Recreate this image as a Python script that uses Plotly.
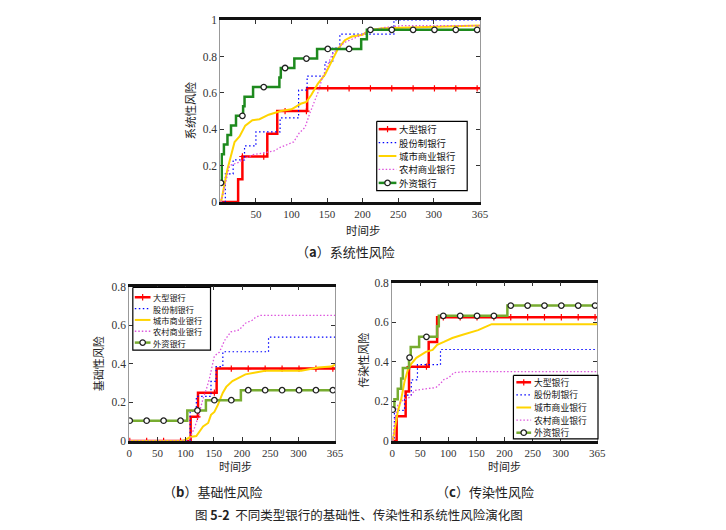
import numpy as np
import plotly.graph_objects as go

W, H = 726, 530

banks = ["大型银行", "股份制银行", "城市商业银行", "农村商业银行", "外资银行"]
xticks_a = [50, 100, 150, 200, 250, 300, 365]
xticks_bc = [0, 50, 100, 150, 200, 250, 300, 365]
yticks_a = [0, 0.2, 0.4, 0.6, 0.8, 1]
yticks_bc = [0, 0.2, 0.4, 0.6, 0.8]
mark_t = list(range(1, 366, 30))

# (a) 系统性风险
sys_big_t = [1, 25, 31, 66, 80, 122, 365]
sys_big_v = [0, 0.125, 0.25, 0.375, 0.5, 0.625, 0.625]
sys_joint_t = [1, 7, 18, 34, 50, 84, 110, 122, 147, 158, 168, 244, 365]
sys_joint_v = [0, 0.154, 0.231, 0.308, 0.385, 0.462, 0.615, 0.692, 0.769, 0.846, 0.923, 1.0, 1.0]
sys_city_t = [1, 10, 20, 27, 35, 45, 55, 68, 85, 100, 113, 121, 128, 137, 147, 156, 165, 175, 185, 200, 210, 228, 265, 365]
sys_city_v = [0, 0.18, 0.33, 0.36, 0.42, 0.45, 0.455, 0.48, 0.5, 0.51, 0.54, 0.55, 0.59, 0.65, 0.7, 0.77, 0.84, 0.89, 0.91, 0.92, 0.945, 0.955, 0.96, 0.97]
sys_rural_t = [1, 8, 13, 27, 35, 46, 60, 75, 84, 95, 103, 111, 119, 126, 133, 138, 143, 150, 157, 166, 176, 188, 198, 212, 232, 255, 365]
sys_rural_v = [0, 0.12, 0.2, 0.22, 0.24, 0.26, 0.27, 0.28, 0.3, 0.32, 0.33, 0.38, 0.41, 0.49, 0.56, 0.61, 0.68, 0.75, 0.81, 0.85, 0.88, 0.9, 0.92, 0.945, 0.96, 0.97, 0.97]
sys_foreign_t = [1, 2, 5, 10, 15, 22, 32, 34, 46, 83, 85, 104, 136, 198, 206, 365]
sys_foreign_v = [0.105, 0.263, 0.316, 0.368, 0.421, 0.474, 0.526, 0.579, 0.632, 0.684, 0.737, 0.789, 0.842, 0.895, 0.947, 0.947]

# (b) 基础性风险
base_big_t = [1, 109, 122, 155, 365]
base_big_v = [0, 0.125, 0.25, 0.375, 0.375]
base_joint_t = [1, 108, 119, 145, 154, 166, 247, 365]
base_joint_v = [0, 0.154, 0.231, 0.308, 0.385, 0.462, 0.538, 0.538]
base_city_t = [1, 96, 108, 119, 125, 131, 140, 145, 151, 157, 166, 172, 183, 195, 206, 224, 241, 305, 318, 335, 358, 365]
base_city_v = [0, 0, 0.02, 0.025, 0.05, 0.075, 0.093, 0.135, 0.15, 0.185, 0.25, 0.28, 0.31, 0.33, 0.345, 0.355, 0.363, 0.363, 0.372, 0.38, 0.385, 0.395]
base_rural_t = [1, 108, 110, 116, 122, 131, 137, 142, 151, 160, 169, 180, 195, 206, 218, 224, 232, 365]
base_rural_v = [0, 0, 0.03, 0.07, 0.12, 0.22, 0.27, 0.32, 0.44, 0.46, 0.52, 0.565, 0.575, 0.61, 0.625, 0.64, 0.65, 0.65]
base_foreign_t = [1, 103, 136, 198, 365]
base_foreign_v = [0.105, 0.158, 0.211, 0.263, 0.263]

# (c) 传染性风险
cont_big_t = [1, 8, 24, 30, 65, 80, 365]
cont_big_v = [0, 0.125, 0.25, 0.375, 0.5, 0.625, 0.625]
cont_joint_t = [1, 4, 22, 34, 45, 86, 365]
cont_joint_v = [0, 0.154, 0.231, 0.308, 0.385, 0.462, 0.462]
cont_city_t = [1, 5, 10, 16, 22, 28, 34, 43, 48, 60, 72, 80, 92, 107, 124, 142, 153, 165, 177, 365]
cont_city_v = [0, 0.066, 0.148, 0.21, 0.3, 0.36, 0.39, 0.42, 0.43, 0.45, 0.46, 0.485, 0.5, 0.52, 0.535, 0.55, 0.56, 0.575, 0.59, 0.59]
cont_rural_t = [1, 5, 10, 19, 31, 40, 60, 78, 86, 92, 101, 110, 130, 365]
cont_rural_v = [0, 0.115, 0.18, 0.205, 0.22, 0.255, 0.263, 0.27, 0.29, 0.31, 0.32, 0.345, 0.35, 0.35]
cont_foreign_t = [1, 4, 10, 16, 19, 30, 33, 48, 80, 83, 205, 365]
cont_foreign_v = [0.158, 0.211, 0.263, 0.316, 0.368, 0.421, 0.474, 0.526, 0.579, 0.632, 0.684, 0.684]

CJK = "Noto Sans CJK SC"
SERIF = "Liberation Serif"


def style(i, green):
    # line style of each bank, MATLAB-like
    return [
        dict(color="#FF0000", width=2.5, dash="solid"),
        dict(color="#0000FF", width=1.2, dash="1.5px,2.5px"),
        dict(color="#FFD400", width=2, dash="solid"),
        dict(color="#DD55DD", width=1.3, dash="1.5px,2px"),
        dict(color=green, width=2.5, dash="solid"),
    ][i]


red_mk = dict(symbol="cross-thin", size=4.5, color="#FF0000", line=dict(color="#FF0000", width=1.2))
circ_mk = dict(symbol="circle", size=5.5, color="white", line=dict(color="#222222", width=1.3))


def step_at(t, v, pts):
    idx = np.searchsorted(t, pts, side="right") - 1
    return np.array(v)[idx]


fig = go.Figure()

panels = [
    ("x", "y", "#1E8A1E",
     [(sys_big_t, sys_big_v, "hv"), (sys_joint_t, sys_joint_v, "hv"),
      (sys_city_t, sys_city_v, "linear"), (sys_rural_t, sys_rural_v, "linear"),
      (sys_foreign_t, sys_foreign_v, "hv")]),
    ("x2", "y2", "#77AC30",
     [(base_big_t, base_big_v, "hv"), (base_joint_t, base_joint_v, "hv"),
      (base_city_t, base_city_v, "linear"), (base_rural_t, base_rural_v, "linear"),
      (base_foreign_t, base_foreign_v, "hv")]),
    ("x3", "y3", "#77AC30",
     [(cont_big_t, cont_big_v, "hv"), (cont_joint_t, cont_joint_v, "hv"),
      (cont_city_t, cont_city_v, "linear"), (cont_rural_t, cont_rural_v, "linear"),
      (cont_foreign_t, cont_foreign_v, "hv")]),
]

for xa, ya, green, series in panels:
    for i, (t, v, shape) in enumerate(series):
        ln = style(i, green)
        fig.add_trace(go.Scatter(x=t, y=v, mode="lines", xaxis=xa, yaxis=ya,
                                 line=dict(shape=shape, **ln),
                                 showlegend=False, hoverinfo="skip"))
        if i == 0 or i == 4:
            fig.add_trace(go.Scatter(x=mark_t, y=step_at(t, v, mark_t), mode="markers",
                                     xaxis=xa, yaxis=ya,
                                     marker=red_mk if i == 0 else circ_mk,
                                     showlegend=False, hoverinfo="skip"))

# legends, drawn on a full-page pixel overlay
legends = [
    # box x0, x1, y0, y1, first row y, row step, sample x0, x1, text x, font size, green
    (380, 472, 118, 189, 126, 13.75, 382, 400, 402, 9.4, "#1E8A1E"),
    (132, 211, 288, 352, 298, 11.6, 134, 150, 151.5, 8.2, "#77AC30"),
    (519, 605, 378, 443, 385, 12.9, 522, 537, 538.5, 8.8, "#77AC30"),
]
annotations = []
for bx0, bx1, by0, by1, ry0, dy, sx0, sx1, tx, fs, green in legends:
    fig.add_trace(go.Scatter(x=[bx0, bx1, bx1, bx0, bx0], y=[by0, by0, by1, by1, by0],
                             mode="lines", fill="toself", fillcolor="white",
                             line=dict(color="black", width=1.2),
                             xaxis="x4", yaxis="y4", showlegend=False, hoverinfo="skip"))
    for i, name in enumerate(banks):
        ry = ry0 + i * dy
        ln = style(i, green)
        fig.add_trace(go.Scatter(x=[sx0, sx1], y=[ry, ry], mode="lines", line=ln,
                                 xaxis="x4", yaxis="y4", showlegend=False, hoverinfo="skip"))
        if i == 0 or i == 4:
            fig.add_trace(go.Scatter(x=[(sx0 + sx1) / 2], y=[ry], mode="markers",
                                     marker=red_mk if i == 0 else circ_mk,
                                     xaxis="x4", yaxis="y4", showlegend=False, hoverinfo="skip"))
        annotations.append(dict(x=tx / W, y=1 - ry / H, xref="paper", yref="paper",
                                text=name, showarrow=False, xanchor="left", yanchor="middle",
                                borderpad=0, font=dict(family=CJK, size=fs, color="#111")))


def txt(x, y, s, size=12, angle=0, family=CJK):
    annotations.append(dict(x=x / W, y=1 - y / H, xref="paper", yref="paper", text=s,
                            showarrow=False, textangle=angle, xanchor="center", yanchor="middle",
                            borderpad=0, font=dict(family=family, size=size, color="#222")))


txt(367, 229, "时间步", 11.5)
txt(190, 107, "系统性风险", 11.5, -90)
txt(236, 471, "时间步", 11)
txt(96, 366, "基础性风险", 11, -90)
txt(510, 471, "时间步", 11)
txt(366, 362, "传染性风险", 11, -90)
txt(348, 251, "（<b>a</b>）系统性风险", 13)
txt(213, 497, "（<b>b</b>）基础性风险", 13)
txt(490, 497, "（<b>c</b>）传染性风险", 13)
txt(362, 520, "图 <b>5-2</b>  不同类型银行的基础性、传染性和系统性风险演化图", 12.5)


def xax(dom, ticks):
    return dict(domain=dom, range=[0, 365], tickvals=ticks, ticktext=[str(v) for v in ticks],
                showline=True, linecolor="#111", linewidth=2.5, mirror="allticks",
                ticks="inside", ticklen=4, tickcolor="#333", showgrid=False, zeroline=False,
                tickfont=dict(family=SERIF, size=11, color="#333"), fixedrange=True)


def yax(dom, rng, ticks, anchor):
    return dict(domain=dom, range=rng, tickvals=ticks, ticktext=[f"{v:g}" for v in ticks],
                anchor=anchor, showline=True, linecolor="#999", linewidth=1, mirror="allticks",
                ticks="inside", ticklen=4, tickcolor="#333", showgrid=False, zeroline=False,
                tickfont=dict(family=SERIF, size=11.5, color="#333"), fixedrange=True)


fig.update_layout(
    width=W, height=H, margin=dict(l=0, r=0, t=0, b=0),
    paper_bgcolor="white", plot_bgcolor="rgba(0,0,0,0)", showlegend=False,
    xaxis=dict(xax([221 / W, 485 / W], xticks_a), anchor="y"),
    yaxis=yax([1 - 200.5 / H, 1 - 14.5 / H], [0, 1], yticks_a, "x"),
    xaxis2=dict(xax([128.3 / W, 337.7 / W], xticks_bc), anchor="y2"),
    yaxis2=yax([1 - 445 / H, 1 - 287 / H], [0, 0.8], yticks_bc, "x2"),
    xaxis3=dict(xax([395.7 / W, 604.3 / W], xticks_bc), anchor="y3"),
    yaxis3=yax([1 - 445 / H, 1 - 283 / H], [0, 0.8], yticks_bc, "x3"),
    xaxis4=dict(domain=[0, 1], range=[0, W], visible=False, anchor="y4", fixedrange=True),
    yaxis4=dict(domain=[0, 1], range=[H, 0], visible=False, anchor="x4", fixedrange=True),
    annotations=annotations,
)

fig.write_html("out.html", config={"displayModeBar": False},
               post_script="document.body.style.margin='0';document.body.style.overflow='hidden';")
